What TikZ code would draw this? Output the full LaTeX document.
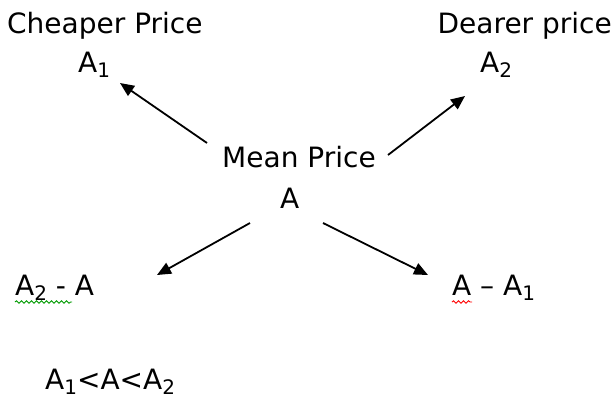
\documentclass[tikz,border=0pt]{standalone}
\usepackage{fontspec}
\setmainfont{DejaVu Sans}
\usetikzlibrary{arrows.meta,decorations.pathmorphing}
\newcommand{\lowsub}[1]{\raisebox{-0.18em}{\fontsize{20}{22}\selectfont #1}}
\begin{document}
\begin{tikzpicture}[x=1pt,y=-1pt,
  lbl/.style={inner sep=0pt,anchor=base west,font=\fontsize{28}{32}\selectfont},
  arr/.style={line width=1.8pt,-{Triangle[length=14pt,width=12pt]}},
  wavy/.style={line width=0.9pt,decorate,decoration={snake,amplitude=1.2pt,segment length=5pt}}]
\useasboundingbox (0,0) rectangle (616,400);
\node[lbl] (cheap) at (7,33) {Cheaper Price};
\node[lbl] (a1) at (78,72) {A\lowsub{1}};
\node[lbl,anchor=base east] (dear) at (612,33) {Dearer price};
\node[lbl] (a2) at (480,72) {A\lowsub{2}};
\node[lbl] (mean) at (222,167) {Mean Price};
\node[lbl] (amean) at (280,208) {A};
\node[lbl] (left) at (15,295) {A\lowsub{2} - A};
\node[lbl] (right) at (452,295) {A -- A\lowsub{1}};
\node[lbl] (ineq) at (45,389) {A\lowsub{1}<A<A\lowsub{2}};
\coordinate (ulT) at (207,143); \coordinate (ulH) at (120,83);
\coordinate (urT) at (388,155); \coordinate (urH) at (465,96);
\coordinate (llT) at (250,223); \coordinate (llH) at (157,275);
\coordinate (lrT) at (323,223); \coordinate (lrH) at (428,275);
\draw[arr] (ulT) -- (ulH);
\draw[arr] (urT) -- (urH);
\draw[arr] (llT) -- (llH);
\draw[arr] (lrT) -- (lrH);
\coordinate (g1) at (15,302); \coordinate (g2) at (72,302);
\coordinate (r1) at (452,302); \coordinate (r2) at (472,302);
\draw[wavy,green!60!black] (g1) -- (g2);
\draw[wavy,red] (r1) -- (r2);
\end{tikzpicture}
\end{document}
